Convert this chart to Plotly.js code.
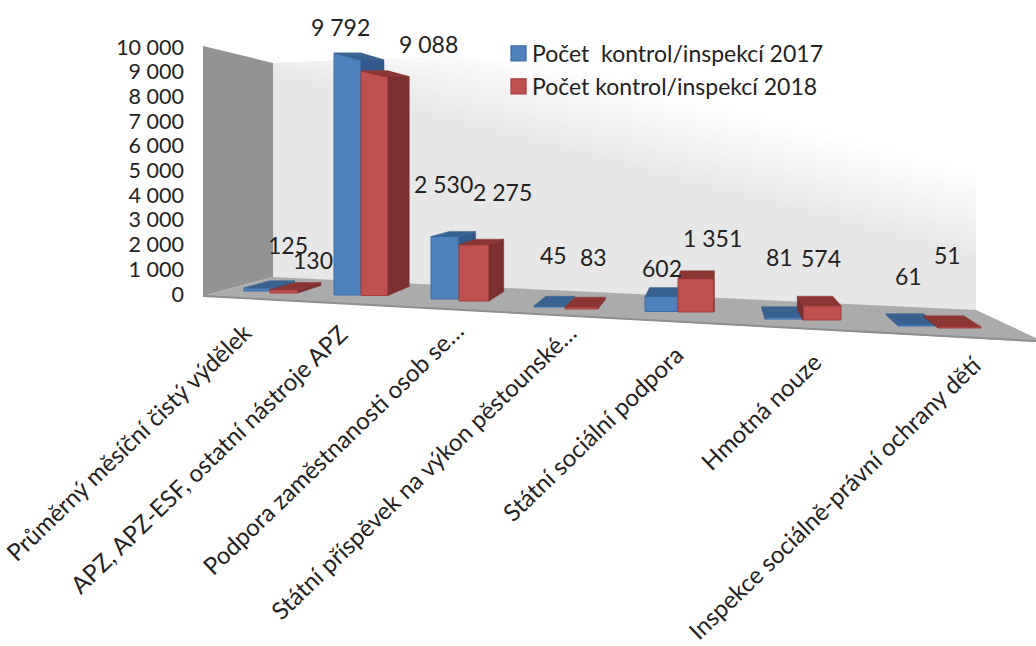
<!DOCTYPE html>
<html>
<head>
<meta charset="utf-8">
<script src="https://cdn.plot.ly/plotly-3.0.1.min.js"></script>
<style>html,body{margin:0;padding:0;background:#fff}#chart{width:1036px;height:646px}</style>
</head>
<body>
<div id="chart"></div>
<script>
const categories = ["Průměrný měsíční čistý výdělek","APZ, APZ-ESF, ostatní nástroje APZ","Podpora zaměstnanosti osob se…","Státní příspěvek na výkon pěstounské…","Státní sociální podpora","Hmotná nouze","Inspekce sociálně-právní ochrany dětí"];
const values2017 = [125,9792,2530,45,602,81,61];
const values2018 = [130,9088,2275,83,1351,574,51];
const name2017 = "Počet\u00a0\u00a0kontrol/inspekcí 2017";
const name2018 = "Počet kontrol/inspekcí 2018";
const yTicks = [0,1000,2000,3000,4000,5000,6000,7000,8000,9000,10000];
const yTickText = ["0","1 000","2 000","3 000","4 000","5 000","6 000","7 000","8 000","9 000","10 000"];

// layout of the pseudo-3D scene, in pixels of the 1036x646 page
const F = "Lato, 'Open Sans', sans-serif";
const PX = 10000/247;                      // value units per pixel
const Y0 = 294;                            // pixel row of value 0
const toY = p => (Y0-p)*PX;
const groupLeft  = [244,334,431,534,645,765,898];
const groupMid   = [270,361,459,565,678,803,938];
const groupRight = [298,388,489,598,714,841,981];
const floor2017  = [291,295,299,307,311.5,319,326];
const floor2018  = [293,295.5,301,309,312,320,328];
const shift2017 = [[31,43],[-7.5,26],[-2,52.5],[3.5,51],[0.5,28.6],[-5,60],[-10,48.5]];
const shift2018 = [[29,30],[53.5,27],[28,53],[11.5,50],[16,41],[-1,48],[-12.5,72]];
const labelEnd = [[260,314],[356,316],[472,312],[584,315],[691,337],[829,344],[989,347]];
const groupDepth = [0.055,0.065,0.065,0.065,0.065,0.065,0.065];
const VX = 715, VY = toY(158);
const back = (x,y,i) => [x+(VX-x)*groupDepth[i], y+(VY-y)*groupDepth[i]];

function poly(pts, color, xa, ya){
  return {type:'scatter', mode:'lines', x:pts.concat([pts[0]]).map(p=>p[0]), y:pts.concat([pts[0]]).map(p=>p[1]),
    fill:'toself', fillcolor:color, line:{color:color,width:0.5}, showlegend:false, hoverinfo:'skip', xaxis:xa, yaxis:ya};
}
function series(values, floorPx, lefts, rights, name, front, edge, top, side, xa, ya){
  const bases = floorPx.map(toY);
  const out = [{type:'bar', name:name, x:values.map((_,i)=>(lefts[i]+rights[i])/2), y:values, base:bases,
    width:values.map((_,i)=>rights[i]-lefts[i]), marker:{color:front,line:{color:edge,width:1}}, hoverinfo:'skip', xaxis:xa, yaxis:ya}];
  values.forEach((v,i)=>{
    const b = bases[i], t = b+v, l = lefts[i], r = rights[i];
    const sx = r < VX ? r : l;
    out.push(poly([[sx,b],[sx,t],back(sx,t,i),back(sx,b,i)], side, xa, ya));
    out.push(poly([[l,t],[r,t],back(r,t,i),back(l,t,i)], top, xa, ya));
  });
  return out;
}
const traces = [].concat(
  series(values2017, floor2017, groupLeft, groupMid, name2017, '#4F81BD', '#3A6DA8', '#38628F', '#325A8A', 'x', 'y'),
  series(values2018, floor2018, groupMid, groupRight, name2018, '#C0504D', '#A53E3B', '#8C3634', '#7B2F2E', 'x2', 'y2')
);

// wall and floor
const path = pts => 'M'+pts.map(p=>p[0]+','+toY(p[1])).join('L')+'Z';
const shapeOf = (pts,color) => ({type:'path', xref:'x', yref:'y', layer:'below', path:path(pts), fillcolor:color, line:{width:0}});
const wallTop = x => 63-0.039*(x-273), wallBottom = x => 277+(x-273)*33/703;
const shapes = [];
const BANDS = 16, wallXs = [273,360,450,540,630,720,810,900,976];
for(let k=0;k<=BANDS;k++){
  const t = k/BANDS, g = Math.round(255-t*24);
  const line = x => 70+0.26*(x-600)+t*85;
  const upper = wallXs.map(x=>[x,Math.min(wallBottom(x),Math.max(wallTop(x),line(x)))]);
  const lower = wallXs.slice().reverse().map(x=>[x,wallBottom(x)]);
  shapes.push(shapeOf(upper.concat(lower),`rgb(${g},${g},${g})`));
}
shapes.push(shapeOf([[203,46],[273,63],[273,277],[203,296]],'#939393'));
shapes.push(shapeOf([[203,296],[273,277],[976,310],[1036,338],[1036,342]],'#ABABAB'));
shapes.push({type:'line',xref:'x',yref:'y',layer:'below',x0:203,x1:1036,y0:toY(296),y1:toY(341),line:{color:'#8E8E8E',width:2}});

// data labels and category labels
const labelFont = {family:F,size:23,color:'#222222'};
const annotations = [];
function addLabels(values, floorPx, lefts, rights, shifts){
  values.forEach((v,i)=>annotations.push({xref:'x',yref:'y',x:(lefts[i]+rights[i])/2,y:toY(floorPx[i])+v,
    text:String(v).replace(/\B(?=(\d{3})+$)/g,' '),showarrow:false,xanchor:'center',yanchor:'middle',
    xshift:shifts[i][0],yshift:shifts[i][1],font:labelFont}));
}
addLabels(values2017,floor2017,groupLeft,groupMid,shift2017);
addLabels(values2018,floor2018,groupMid,groupRight,shift2018);
categories.forEach((c,i)=>annotations.push({xref:'x',yref:'y',x:labelEnd[i][0],y:toY(labelEnd[i][1]),text:c,
  showarrow:false,textangle:-44,xanchor:'right',yanchor:'top',font:{family:F,size:24,color:'#222222'}}));

const xr = [185,1036], yr = [toY(646),toY(0)];
const layout = {
  width:1036,height:646,margin:{l:185,r:0,t:0,b:0,pad:0},
  paper_bgcolor:'#fff',plot_bgcolor:'rgba(0,0,0,0)',barmode:'overlay',
  xaxis:{range:xr,visible:false,fixedrange:true},
  yaxis:{range:yr,tickmode:'array',tickvals:yTicks,ticktext:yTickText,showgrid:false,zeroline:false,showline:false,ticks:'',
    fixedrange:true,tickfont:{family:F,size:21.5,color:'#222222'}},
  xaxis2:{range:xr,overlaying:'x',visible:false,fixedrange:true},
  yaxis2:{range:yr,overlaying:'y',visible:false,fixedrange:true},
  legend:{x:(492-185)/851,y:1-32/646,xanchor:'left',yanchor:'top',bgcolor:'rgba(0,0,0,0)',tracegroupgap:0,
    font:{family:F,size:23,color:'#222222'},itemwidth:30},
  shapes:shapes,annotations:annotations,showlegend:true
};
Plotly.newPlot('chart',traces,layout,{displayModeBar:false,staticPlot:true}).then(()=>{
  // the reference's legend keys are larger and sit closer to their text
  document.querySelectorAll('.legend .legendpoints path').forEach(p=>{
    p.setAttribute('transform','translate(26.5,0) scale(1.25)');
  });
});
</script>
</body>
</html>
